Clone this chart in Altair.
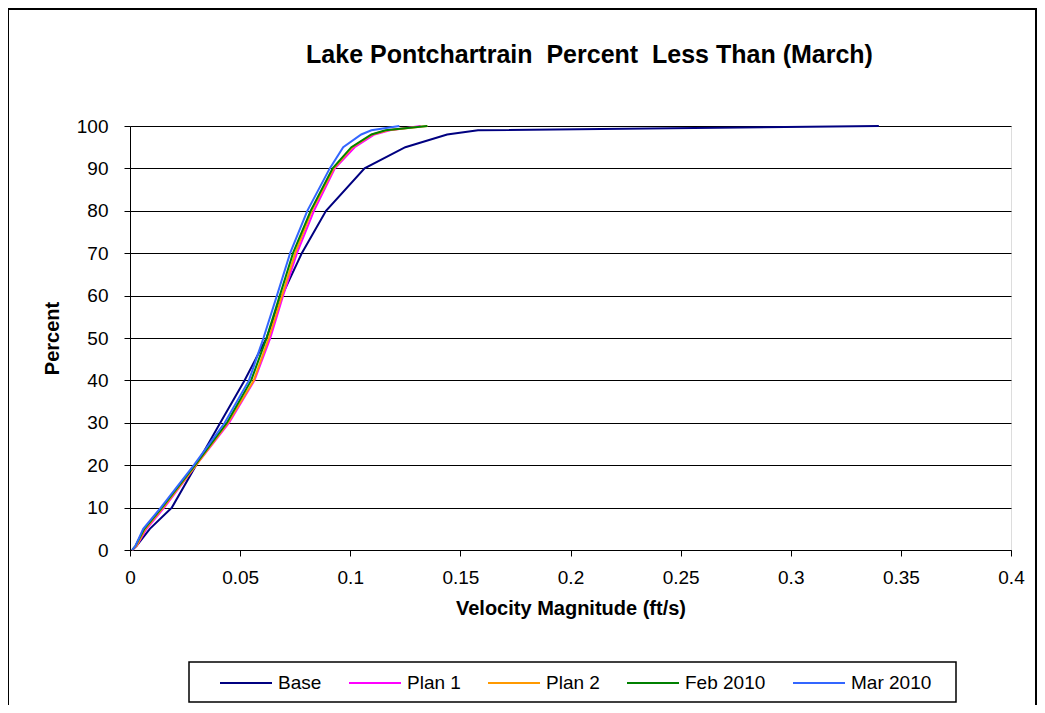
import altair as alt
import pandas as pd

# ---- data ----
percent = [0, 1, 5, 10, 20, 30, 40, 50, 60, 70, 80, 90, 95, 98, 99, 100]
base    = [0.001, 0.003, 0.009, 0.019, 0.030, 0.041, 0.052, 0.062, 0.069, 0.078, 0.089, 0.1065, 0.125, 0.144, 0.158, 0.34]
plan1   = [0.001, 0.003, 0.0075, 0.0155, 0.030, 0.045, 0.0565, 0.0637, 0.0695, 0.0758, 0.0835, 0.093, 0.102, 0.111, 0.118, 0.132]
plan2   = [0.001, 0.003, 0.007, 0.015, 0.030, 0.0445, 0.0562, 0.063, 0.069, 0.075, 0.0825, 0.0925, 0.101, 0.110, 0.117, 0.135]
feb2010 = [0.001, 0.0025, 0.0065, 0.0145, 0.0295, 0.044, 0.055, 0.062, 0.068, 0.074, 0.082, 0.092, 0.1005, 0.1096, 0.116, 0.135]
mar2010 = [0.001, 0.0025, 0.006, 0.014, 0.029, 0.043, 0.054, 0.0606, 0.0667, 0.0727, 0.0805, 0.0907, 0.0968, 0.105, 0.1096, 0.1223]

series_names = ["Base", "Plan 1", "Plan 2", "Feb 2010", "Mar 2010"]
series_colors = ["#000080", "#FF00FF", "#FF9900", "#008000", "#3366FF"]
x_ticks = [0, 0.05, 0.1, 0.15, 0.2, 0.25, 0.3, 0.35, 0.4]
y_ticks = [0, 10, 20, 30, 40, 50, 60, 70, 80, 90, 100]

rows = []
for name, vals in zip(series_names, [base, plan1, plan2, feb2010, mar2010]):
    for i, (v, p) in enumerate(zip(vals, percent)):
        rows.append({"series": name, "velocity": v, "percent": p, "idx": i})
df = pd.DataFrame(rows)

FONT = "Liberation Sans"
W, H = 881, 424

lines = alt.Chart(df).mark_line(strokeWidth=2).encode(
    x=alt.X("velocity:Q",
            scale=alt.Scale(domain=[0, 0.4], nice=False, zero=True),
            axis=alt.Axis(values=x_ticks, format="~g", title="Velocity Magnitude (ft/s)",
                          grid=False, tickSize=6, tickColor="black", domainColor="black",
                          labelColor="black", labelFontSize=19, labelFont=FONT, labelPadding=12,
                          labelFlush=False,
                          titleFont=FONT, titleFontSize=20, titleFontWeight="bold", titleColor="black",
                          titleY=58, titleBaseline="middle")),
    y=alt.Y("percent:Q",
            scale=alt.Scale(domain=[0, 100], nice=False),
            axis=alt.Axis(values=y_ticks, title="Percent", grid=True, gridColor="black",
                          gridWidth=1, tickSize=6, tickColor="black", domainColor="black",
                          labelColor="black", labelFontSize=19, labelFont=FONT, labelPadding=16,
                          titleFont=FONT, titleFontSize=20, titleFontWeight="bold", titleColor="black",
                          titleX=-78, titleY=212, titleAngle=-90, titleBaseline="middle",
                          titleAlign="center")),
    color=alt.Color("series:N",
                    scale=alt.Scale(domain=series_names, range=series_colors),
                    sort=series_names,
                    legend=alt.Legend(title=None, orient="none", legendX=89, legendY=530,
                                      direction="horizontal", columns=5, symbolType="stroke",
                                      symbolSize=2704, symbolStrokeWidth=2, labelFontSize=19,
                                      labelFont=FONT, labelColor="black", columnPadding=23,
                                      labelOffset=5, padding=0, gridAlign="none")),
    order="idx:Q",
)

frame_df = pd.DataFrame({"k": [0]})
frame = alt.Chart(frame_df).mark_rect(fillOpacity=0, stroke="black", strokeWidth=2).encode(
    x=alt.value(-122), x2=alt.value(906), y=alt.value(-117), y2=alt.value(620)
)
legend_box = alt.Chart(frame_df).mark_rect(fillOpacity=0, stroke="black", strokeWidth=1.5).encode(
    x=alt.value(59), x2=alt.value(826), y=alt.value(536), y2=alt.value(576)
)

chart = alt.layer(frame, legend_box, lines).properties(
    width=W, height=H,
    title=alt.TitleParams("Lake Pontchartrain\u00a0 Percent\u00a0 Less Than (March)",
                          font=FONT, fontSize=25, fontWeight="bold", color="black",
                          anchor="middle", dx=19, offset=-85, baseline="bottom"),
    padding={"left": 122, "top": 118, "right": 26, "bottom": 155},
    autosize=alt.AutoSizeParams(type="none"),
).configure_view(stroke="#808080", strokeWidth=1).configure(background="white")

chart.save("out.html", embed_options={"renderer": "svg", "actions": False})
